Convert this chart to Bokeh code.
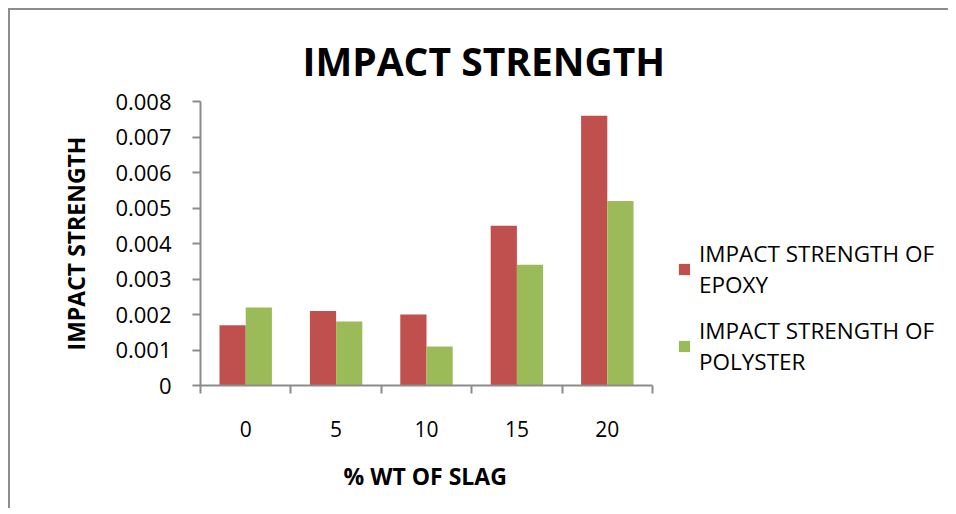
from bokeh.plotting import figure
from bokeh.models import FixedTicker, Legend, LegendItem, ColumnDataSource, Range1d, Title
from bokeh.transform import dodge
from bokeh.embed import file_html
from bokeh.resources import INLINE

categories = ["0", "5", "10", "15", "20"]
epoxy = [0.0017, 0.0021, 0.0020, 0.0045, 0.0076]
polyester = [0.0022, 0.0018, 0.0011, 0.0034, 0.0052]
y_tick_labels = ["0", "0.001", "0.002", "0.003", "0.004", "0.005", "0.006", "0.007", "0.008"]
series_names = ["IMPACT STRENGTH OF\nEPOXY", "IMPACT STRENGTH OF\nPOLYSTER"]
x_title = "% WT OF SLAG"
y_title = "IMPACT STRENGTH"
chart_title = "IMPACT STRENGTH"

FONT = "Open Sans"
GRAY = "#8c8c8c"

# layout (pixels)
W, H = 940, 500
LEFT, TOP, RIGHT, BOTTOM = 190, 91, 0, 125
AXIS_W = 452  # pixel width of the category axis
FRAME_W = W - LEFT - RIGHT
n = len(categories)

xs = [i + 0.5 for i in range(n)]
src = ColumnDataSource(dict(x=xs, epoxy=epoxy, polyester=polyester))

p = figure(width=W, height=H, output_backend="svg", toolbar_location=None,
           x_range=Range1d(0, n * FRAME_W / AXIS_W), y_range=Range1d(0, 0.008),
           min_border_left=LEFT, min_border_top=TOP, min_border_right=RIGHT, min_border_bottom=BOTTOM)
p.styles = {"border-left": "2px solid #8c8c8c", "border-top": "2px solid #8c8c8c",
            "margin-left": "8px", "margin-top": "8px"}
p.outline_line_color = None
p.xgrid.visible = False
p.ygrid.visible = False

r1 = p.vbar(x=dodge("x", -0.145, range=p.x_range), top="epoxy", width=0.29, source=src,
            fill_color="#C0504D", line_color=None)
r2 = p.vbar(x=dodge("x", 0.145, range=p.x_range), top="polyester", width=0.29, source=src,
            fill_color="#9BBB59", line_color=None)

# Title
p.title.text = chart_title
p.title.text_font = FONT
p.title.text_font_size = "39px"
p.title.text_font_style = "bold"
p.title.text_color = "black"
p.title.align = "left"
p.title.offset = 102
p.title.standoff = 30

# x axis
xa = p.xaxis[0]
xa.bounds = (0, n)
xa.ticker = FixedTicker(ticks=xs, minor_ticks=list(range(n + 1)))
xa.major_label_overrides = {x: c for x, c in zip(xs, categories)}
xa.major_tick_out = 0
xa.major_tick_in = 0
xa.minor_tick_out = 8
xa.minor_tick_in = 0
xa.minor_tick_line_color = GRAY
xa.axis_line_color = GRAY
xa.axis_line_width = 2
xa.minor_tick_line_width = 2
xa.major_label_standoff = 27
xa.major_label_text_font = FONT
xa.major_label_text_font_size = "21px"
xa.major_label_text_color = "black"

# x axis title, placed under the axis
xt = Title(text=x_title, align="left", offset=143, standoff=37,
           text_font=FONT, text_font_size="23px", text_font_style="bold", text_color="black")
p.add_layout(xt, "below")

# y axis
ya = p.yaxis[0]
yticks = [float(s) for s in y_tick_labels]
ya.ticker = FixedTicker(ticks=yticks, minor_ticks=[])
ya.major_label_overrides = {t: s for t, s in zip(yticks, y_tick_labels)}
ya.major_tick_out = 8
ya.major_tick_in = 0
ya.major_tick_line_color = GRAY
ya.major_tick_line_width = 2
ya.axis_line_color = GRAY
ya.axis_line_width = 2
ya.major_label_standoff = 21
ya.major_label_text_font = FONT
ya.major_label_text_font_size = "22px"
ya.major_label_text_color = "black"
ya.axis_label = y_title
ya.axis_label_text_font = FONT
ya.axis_label_text_font_size = "23px"
ya.axis_label_text_font_style = "bold"
ya.axis_label_text_color = "black"
ya.axis_label_standoff = 20

legend = Legend(items=[LegendItem(label=series_names[0], renderers=[r1]),
                       LegendItem(label=series_names[1], renderers=[r2])],
                location=(477, 8))
legend.border_line_color = None
legend.background_fill_alpha = 0
legend.label_text_font = FONT
legend.label_text_font_size = "22.5px"
legend.label_text_color = "black"
legend.label_text_line_height = 1.42
legend.glyph_width = 14
legend.glyph_height = 14
legend.label_standoff = 8
legend.spacing = 15
legend.padding = 0
legend.margin = 0
p.add_layout(legend, "center")

open("out.html", "w").write(file_html(p, INLINE))
